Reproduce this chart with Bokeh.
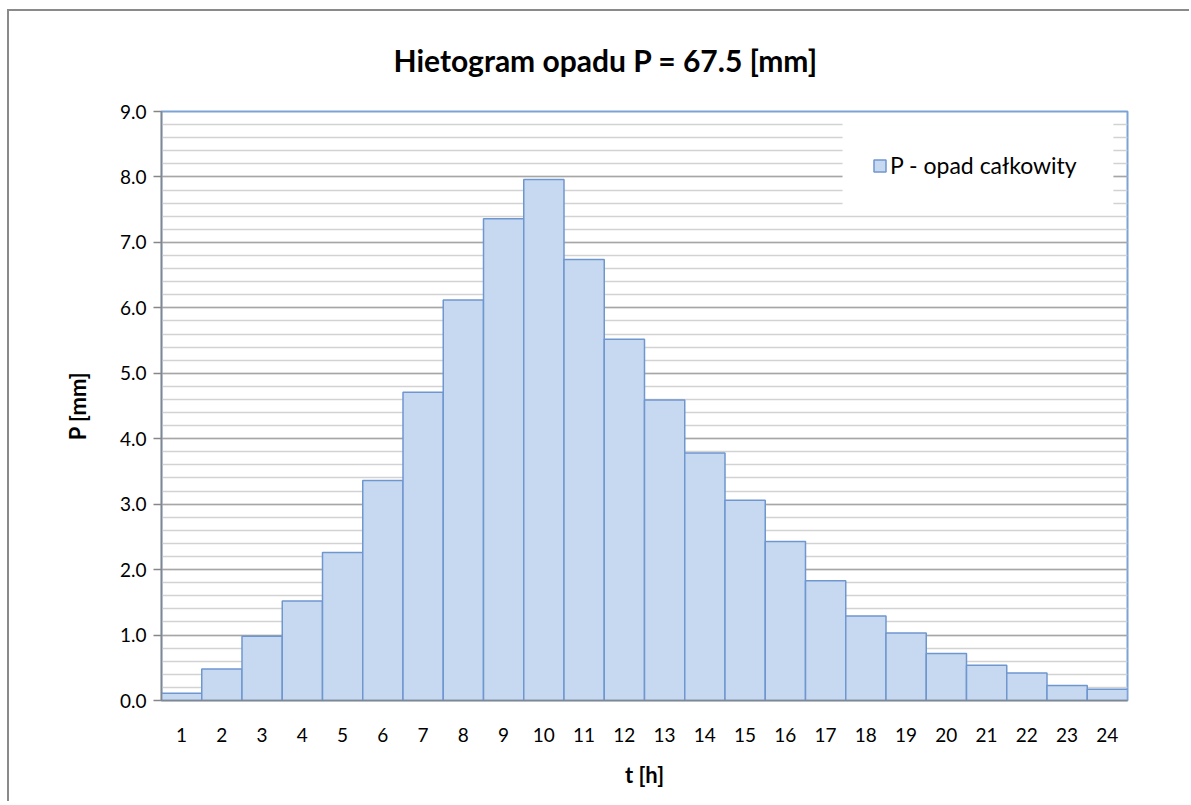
from bokeh.plotting import figure
from bokeh.models import (Range1d, FixedTicker, PrintfTickFormatter, BoxAnnotation,
                          Legend, LegendItem, LinearAxis)
from bokeh.embed import file_html
from bokeh.resources import INLINE

hours = list(range(1, 25))
precip = [0.11, 0.48, 0.98, 1.52, 2.26, 3.36, 4.71, 6.12, 7.36, 7.96, 6.74, 5.52,
          4.59, 3.78, 3.06, 2.43, 1.83, 1.29, 1.03, 0.72, 0.54, 0.42, 0.23, 0.17]
x_tick_labels = [str(h) for h in hours]
y_ticks = [0, 1, 2, 3, 4, 5, 6, 7, 8, 9]
y_minor = [round(i * 0.2, 1) for i in range(46)]
title_text = "Hietogram opadu P = 67.5 [mm]"
series_name = "P - opad całkowity"

FONT = "Lato"

p = figure(width=1182, height=792, output_backend="svg", toolbar_location=None,
           x_range=Range1d(0.5, 24.5), y_range=Range1d(0, 9),
           min_border_left=152, min_border_right=64, min_border_top=100,
           min_border_bottom=103)
p.styles = {"margin-left": "9px", "margin-top": "11px",
            "box-shadow": "-2px -2px 0px 0px #8a8a8a"}

bars = p.vbar(x=hours, top=precip, width=1.0, bottom=0,
              fill_color="#c6d9f0", line_color="#6f97cf", line_width=1.5)

# title, left-aligned with an offset so it sits where the original one is
p.title.text = title_text
p.title.align = "left"
p.title.offset = 232
p.title.text_font = FONT
p.title.text_font_size = "30px"
p.title.text_font_style = "bold"
p.title.text_color = "#000000"
p.title.standoff = 4

p.outline_line_color = "#7da3d6"
p.outline_line_width = 2

# grids
p.xgrid.grid_line_color = None
p.ygrid.grid_line_color = "#a6a6a6"
p.ygrid.grid_line_width = 1.5
p.ygrid.minor_grid_line_color = "#d2d2d2"
p.ygrid.minor_grid_line_width = 1.5

# y axis
yax = p.left[0]
yax.ticker = FixedTicker(ticks=y_ticks, minor_ticks=y_minor)
yax.formatter = PrintfTickFormatter(format="%.1f")
yax.axis_line_color = "#868686"
yax.axis_line_width = 1.5
yax.major_tick_line_color = "#868686"
yax.major_tick_line_width = 1.5
yax.major_tick_out = 8
yax.major_tick_in = 0
yax.minor_tick_line_color = None
yax.major_label_standoff = 7
yax.major_label_text_font = FONT
yax.major_label_text_font_size = "19px"
yax.major_label_text_color = "#000000"
yax.axis_label = "P [mm]"
yax.axis_label_text_font = FONT
yax.axis_label_text_font_size = "22px"
yax.axis_label_text_font_style = "bold"
yax.axis_label_text_color = "#000000"
yax.axis_label_standoff = 26

# x axis
xax = p.below[0]
xax.ticker = FixedTicker(ticks=hours)
xax.major_label_overrides = {h: lab for h, lab in zip(hours, x_tick_labels)}
xax.axis_line_color = "#868686"
xax.axis_line_width = 1.5
xax.major_tick_line_color = None
xax.major_tick_out = 0
xax.major_tick_in = 0
xax.minor_tick_line_color = None
xax.major_label_standoff = 27
xax.major_label_text_font = FONT
xax.major_label_text_font_size = "19px"
xax.major_label_text_color = "#000000"
xax.axis_label = "t [h]"
xax.axis_label_text_font = FONT
xax.axis_label_text_font_size = "22px"
xax.axis_label_text_font_style = "bold"
xax.axis_label_text_color = "#000000"
xax.axis_label_standoff = 16

# invisible axis above the frame, used only as a spacer below the title
spacer = LinearAxis(ticker=FixedTicker(ticks=[1], minor_ticks=[]), major_tick_out=32,
                    major_tick_in=0, axis_line_color=None, major_tick_line_color=None,
                    minor_tick_line_color=None, major_label_standoff=0,
                    major_label_overrides={1: ""}, axis_label=None)
p.add_layout(spacer, "above")

# legend background box
box = BoxAnnotation(left=17.42, right=24.15, bottom=7.51, top=8.96,
                    fill_color="white", fill_alpha=1.0, line_color=None)
p.add_layout(box)

legend = Legend(items=[LegendItem(label=series_name, renderers=[bars])],
                location=(711, 521), margin=0, padding=0, spacing=0,
                glyph_width=15, glyph_height=15, label_standoff=3,
                label_text_font=FONT, label_text_font_size="23px",
                label_text_color="#000000",
                background_fill_alpha=0.0, border_line_color=None)
p.add_layout(legend)

open("out.html", "w").write(file_html(p, INLINE))
